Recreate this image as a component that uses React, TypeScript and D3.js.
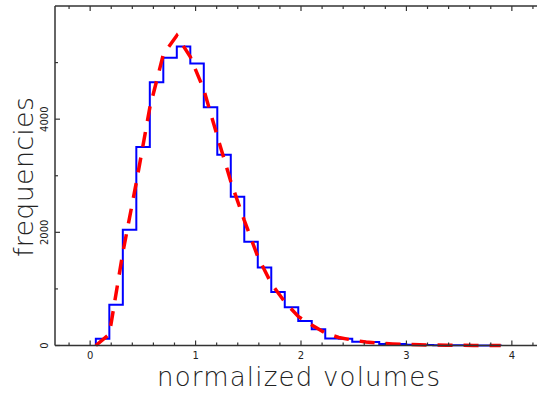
import React from "react";
import * as d3 from "d3";

// Histogram of normalized volumes with a fitted distribution curve
const binStart = 0.054;
const binWidth = 0.128;
const counts = [
  120, 720, 2044, 3510, 4651, 5086, 5283, 4985, 4212, 3369,
  2630, 1832, 1377, 945, 674, 432, 287, 125, 118, 65,
  60, 28, 26, 12, 8, 6, 4, 3, 2, 1,
];
// Fitted curve sampled at the bin edges
const fitValues = [
  0, 200, 1640, 2880, 4204, 5142, 5478, 5100, 4522, 3699,
  2899, 2212, 1572, 1097, 770, 513, 363, 221, 142, 97,
  62, 41, 27, 18, 12, 8, 5, 3, 2, 1, 1,
];
const xMajorTicks = [0, 1, 2, 3, 4];
const xMinorTicks = [-0.2, 0.2, 0.4, 0.6, 0.8, 1.2, 1.4, 1.6, 1.8, 2.2, 2.4, 2.6, 2.8, 3.2, 3.4, 3.6, 3.8, 4.2];
const yMajorTicks = [0, 2000, 4000];
const yMinorTicks = [1000, 3000, 5000];
const xTitle = "normalized volumes";
const yTitle = "frequencies";

const W = 537;
const H = 395;
const left = 55;
const top = 6;
const bottom = 345.5;
const right = 547;

export default function App() {
  const x = d3.scaleLinear().domain([-1 / 3, 13 / 3]).range([left, right]);
  const y = d3.scaleLinear().domain([0, 6000]).range([bottom, top]);

  const edges = d3.range(counts.length + 1).map((i) => binStart + i * binWidth);

  // step outline of the histogram
  const stepPts: [number, number][] = [[edges[0], 0]];
  counts.forEach((c, i) => {
    stepPts.push([edges[i], c]);
    stepPts.push([edges[i + 1], c]);
  });
  stepPts.push([edges[counts.length], 0]);
  const line = d3
    .line<[number, number]>()
    .x((d) => x(d[0]))
    .y((d) => y(d[1]));
  const histPath = line(stepPts) || "";

  const fitPath =
    line(fitValues.map((v, i) => [edges[i], v] as [number, number])) || "";

  const axisColor = "#333";
  const font = "'DejaVu Sans', sans-serif";

  return (
    <svg
      width={W}
      height={H}
      style={{ position: "absolute", left: 0, top: 0, background: "#fff" }}
    >
      <rect x={0} y={0} width={W} height={H} fill="#fff" />
      <path d={histPath} fill="none" stroke="#0000ff" strokeWidth={2} />
      <path
        d={fitPath}
        fill="none"
        stroke="#ff0000"
        strokeWidth={3.5}
        strokeDasharray="15 11"
      />

      {/* frame */}
      <line x1={left} x2={right} y1={bottom} y2={bottom} stroke={axisColor} strokeWidth={1.5} />
      <line x1={left} x2={right} y1={top} y2={top} stroke={axisColor} strokeWidth={1.5} />
      <line x1={left} x2={left} y1={top} y2={bottom} stroke={axisColor} strokeWidth={1.5} />

      {/* x ticks on bottom and top */}
      {xMajorTicks.map((t) => (
        <g key={"xM" + t}>
          <line x1={x(t)} x2={x(t)} y1={bottom} y2={bottom - 5} stroke={axisColor} strokeWidth={1.2} />
          <line x1={x(t)} x2={x(t)} y1={top} y2={top + 5} stroke={axisColor} strokeWidth={1.2} />
          <text
            x={x(t)}
            y={359}
            fontFamily={font}
            fontSize={10}
            fill="#222"
            textAnchor="middle"
          >
            {t}
          </text>
        </g>
      ))}
      {xMinorTicks.map((t) => (
        <g key={"xm" + t}>
          <line x1={x(t)} x2={x(t)} y1={bottom} y2={bottom - 3} stroke={axisColor} strokeWidth={1.2} />
          <line x1={x(t)} x2={x(t)} y1={top} y2={top + 3} stroke={axisColor} strokeWidth={1.2} />
        </g>
      ))}

      {/* y ticks */}
      {yMajorTicks.map((t) => (
        <g key={"yM" + t}>
          <line x1={left} x2={left + 5} y1={y(t)} y2={y(t)} stroke={axisColor} strokeWidth={1.2} />
          <text
            transform={`translate(48, ${y(t)}) rotate(-90)`}
            fontFamily={font}
            fontSize={10}
            fill="#222"
            textAnchor="middle"
          >
            {t}
          </text>
        </g>
      ))}
      {yMinorTicks.map((t) => (
        <line key={"ym" + t} x1={left} x2={left + 3} y1={y(t)} y2={y(t)} stroke={axisColor} strokeWidth={1.2} />
      ))}

      {/* axis titles */}
      <text
        x={298.5}
        y={386}
        fontFamily={font}
        fontWeight={200}
        fontSize={26}
        fill="#222"
        textAnchor="middle"
        textLength={283}
        lengthAdjust="spacing"
      >
        {xTitle}
      </text>
      <text
        transform={`translate(33, 177) rotate(-90)`}
        fontFamily={font}
        fontWeight={200}
        fontSize={27}
        fill="#222"
        textAnchor="middle"
        textLength={160}
        lengthAdjust="spacing"
      >
        {yTitle}
      </text>
    </svg>
  );
}
